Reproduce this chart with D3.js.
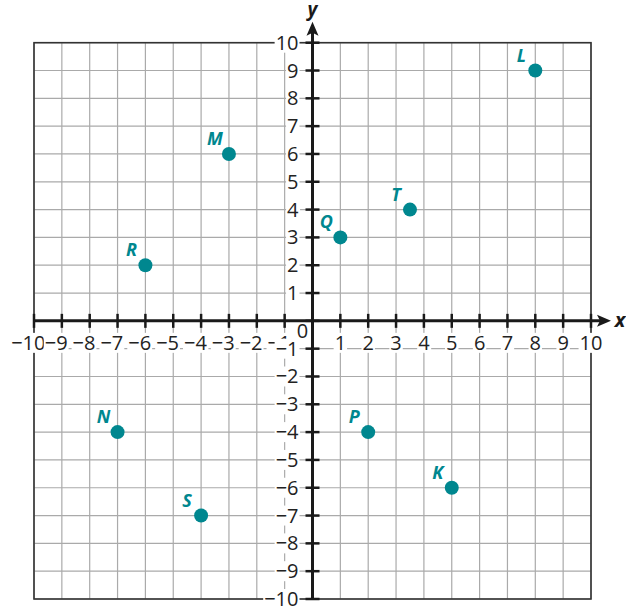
<!DOCTYPE html>
<html lang="en">
<head>
<meta charset="UTF-8">
<title>Coordinate plane</title>
<style>
  body { margin: 0; background: #fff; }
  svg text { font-family: "Open Sans", "Noto Sans", sans-serif; }
</style>
</head>
<body>
<div id="chart"></div>
<script src="https://cdn.jsdelivr.net/npm/d3@7"></script>
<script>
// point names and coordinates
var names = ['L', 'M', 'T', 'Q', 'R', 'N', 'S', 'P', 'K'];
var xs = [8, -3, 3.5, 1, -6, -7, -4, 2, 5];
var ys = [9, 6, 4, 3, 2, -4, -7, -4, -6];
var ticks = d3.range(-10, 11);

var width = 626, height = 609;
var teal = '#00878f';

var x = d3.scaleLinear().domain([-10, 10]).range([34, 591]);
var y = d3.scaleLinear().domain([-10, 10]).range([599, 42.7]);

var svg = d3.select('#chart').append('svg')
    .attr('width', width).attr('height', height);

// grid
var grid = svg.append('g');
grid.selectAll('line.v').data(ticks).enter().append('line')
    .attr('x1', d => x(d)).attr('x2', d => x(d))
    .attr('y1', y(10)).attr('y2', y(-10))
    .attr('stroke', '#aaa').attr('stroke-width', 1.2);
grid.selectAll('line.h').data(ticks).enter().append('line')
    .attr('y1', d => y(d)).attr('y2', d => y(d))
    .attr('x1', x(-10)).attr('x2', x(10))
    .attr('stroke', '#aaa').attr('stroke-width', 1.2);
svg.append('rect')
    .attr('x', x(-10)).attr('y', y(10))
    .attr('width', x(10) - x(-10)).attr('height', y(-10) - y(10))
    .attr('fill', 'none').attr('stroke', '#333').attr('stroke-width', 1.6);

// tick labels with white backing
var labels = svg.append('g').attr('font-size', 20).attr('fill', '#222');
function backing(t) {
    var b = t.node().getBBox();
    labels.insert('rect', function () { return t.node(); })
        .attr('x', b.x - 1).attr('y', b.y + 4)
        .attr('width', b.width + 2).attr('height', b.height - 7)
        .attr('fill', '#fff');
}
// x labels: digits centred on tick, minus hanging to the left
ticks.filter(d => d !== 0).forEach(function (d) {
    var t = labels.append('text')
        .attr('x', x(d)).attr('y', y(0) + 29)
        .attr('text-anchor', 'middle').text(Math.abs(d));
    if (d < 0) {
        var bx = t.node().getBBox().x;
        t.text(null);
        t.attr('x', bx).attr('text-anchor', 'start');
        t.append('tspan').attr('dx', -11.4).text('\u2212');
        t.append('tspan').text(Math.abs(d));
    }
    backing(t);
});
// y labels
ticks.filter(d => d !== 0).forEach(function (d) {
    var t = labels.append('text')
        .attr('x', x(0) - 14).attr('y', y(d) + 7)
        .attr('text-anchor', 'end').text(d < 0 ? '\u2212' + (-d) : d);
    backing(t);
});
backing(labels.append('text')
    .attr('x', x(0) - 10).attr('y', y(0) + 17)
    .attr('text-anchor', 'middle').text('0'));

// axes
var ax = svg.append('g').attr('stroke', '#1a1a1a');
ax.append('line')
    .attr('x1', x(-10)).attr('x2', x(10) + 12)
    .attr('y1', y(0)).attr('y2', y(0)).attr('stroke-width', 3);
ax.append('line')
    .attr('x1', x(0)).attr('x2', x(0))
    .attr('y1', y(-10)).attr('y2', y(10) - 12).attr('stroke-width', 3);
ax.selectAll('line.tx').data(ticks).enter().append('line')
    .attr('x1', d => x(d)).attr('x2', d => x(d))
    .attr('y1', y(0) - 7).attr('y2', y(0) + 7).attr('stroke-width', 2.5);
ax.selectAll('line.ty').data(ticks).enter().append('line')
    .attr('y1', d => y(d)).attr('y2', d => y(d))
    .attr('x1', x(0) - 7).attr('x2', x(0) + 7).attr('stroke-width', 2.5);
svg.append('path')
    .attr('d', 'M' + (x(10) + 20) + ',' + y(0) + 'l-14,-6l3,6l-3,6z')
    .attr('fill', '#1a1a1a');
svg.append('path')
    .attr('d', 'M' + x(0) + ',' + (y(10) - 21) + 'l-6,14l6,-3l6,3z')
    .attr('fill', '#1a1a1a');

svg.append('text').attr('x', x(10) + 29).attr('y', y(0) + 6)
    .attr('font-size', 20).attr('font-style', 'italic').attr('font-weight', 'bold')
    .attr('text-anchor', 'middle').attr('fill', '#1a1a1a').text('x');
svg.append('text').attr('x', x(0)).attr('y', 16)
    .attr('font-size', 19).attr('font-style', 'italic').attr('font-weight', 'bold')
    .attr('text-anchor', 'middle').attr('fill', '#1a1a1a').text('y');

// points
var pts = names.map((n, i) => ({ n: n, x: xs[i], y: ys[i] }));
var g = svg.append('g');
g.selectAll('circle').data(pts).enter().append('circle')
    .attr('cx', d => x(d.x)).attr('cy', d => y(d.y)).attr('r', 7)
    .attr('fill', teal);
g.selectAll('text').data(pts).enter().append('text')
    .attr('x', d => x(d.x) - 14).attr('y', d => y(d.y) - 9)
    .attr('text-anchor', 'middle')
    .attr('font-size', 18).attr('font-style', 'italic').attr('font-weight', 'bold')
    .attr('fill', teal).text(d => d.n);
</script>
</body>
</html>
